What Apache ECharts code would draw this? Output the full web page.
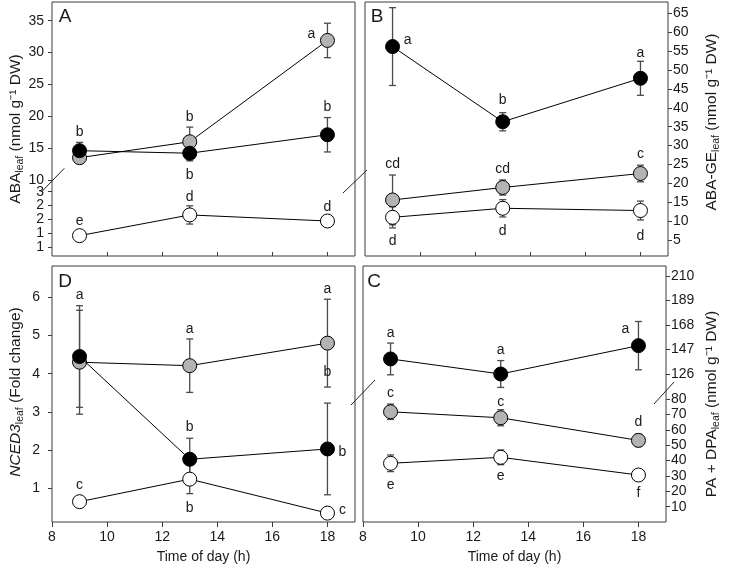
<!DOCTYPE html>
<html><head><meta charset="utf-8">
<script src="https://cdn.jsdelivr.net/npm/echarts@6/dist/echarts.min.js"></script>
<style>html,body{margin:0;padding:0;background:#fff}#c{width:730px;height:571px}</style>
</head><body><div id="c"></div>
<script>
// ---------------- DATA ----------------
const hours = [9, 13, 18];
const xTicks = [8, 10, 12, 14, 16, 18];

// Panel A: ABA leaf (nmol g-1 DW)
const A_black = [14.6, 14.2, 17.1];
const A_blackErr = [1.3, 1.2, 2.7];
const A_gray = [13.5, 16.0, 31.9];
const A_grayErr = [0.8, 2.3, 2.7];
const A_white = [1.41, 2.16, 1.94];
const A_whiteErr = [0.08, 0.33, 0.08];
const A_upperTicks = [10, 15, 20, 25, 30, 35];
const A_lowerTicks = [1, 1.5, 2, 2.5, 3];
const A_lowerTickLabels = ['1', '1', '2', '2', '3'];
const A_blackLetters = ['b', 'b', 'b'];
const A_grayLetters = ['', 'b', 'a'];
const A_whiteLetters = ['e', 'd', 'd'];

// Panel B: ABA-GE leaf
const B_black = [56.2, 36.3, 47.8];
const B_blackErr = [10.3, 2.4, 4.5];
const B_gray = [15.6, 18.9, 22.6];
const B_grayErr = [6.6, 2.0, 2.2];
const B_white = [11.0, 13.4, 12.8];
const B_whiteErr = [2.8, 2.3, 2.5];
const B_ticks = [5, 10, 15, 20, 25, 30, 35, 40, 45, 50, 55, 60, 65];
const B_blackLetters = ['a', 'b', 'a'];
const B_grayLetters = ['cd', 'cd', 'c'];
const B_whiteLetters = ['d', 'd', 'd'];

// Panel C: PA + DPA leaf
const C_black = [138.9, 126.0, 150.3];
const C_blackErr = [13.6, 11.5, 20.7];
const C_gray = [71.7, 67.8, 53.1];
const C_grayErr = [5.0, 5.2, 4.0];
const C_white = [38.2, 42.1, 30.6];
const C_whiteErr = [5.4, 4.8, 1.5];
const C_upperTicks = [126, 147, 168, 189, 210];
const C_lowerTicks = [10, 20, 30, 40, 50, 60, 70, 80];
const C_blackLetters = ['a', 'a', 'a'];
const C_grayLetters = ['c', 'c', 'd'];
const C_whiteLetters = ['e', 'e', 'f'];

// Panel D: NCED3 leaf (fold change)
const D_black = [4.45, 1.76, 2.03];
const D_blackErr = [1.33, 0.55, 1.2];
const D_gray = [4.30, 4.21, 4.80];
const D_grayErr = [1.36, 0.70, 1.15];
const D_white = [0.65, 1.24, 0.35];
const D_whiteErr = [0.1, 0.38, 0.08];
const D_ticks = [1, 2, 3, 4, 5, 6];
const D_blackLetters = ['', 'b', 'b'];
const D_grayLetters = ['a', 'a', 'a'];
const D_grayLetters2 = ['', '', 'b'];
const D_whiteLetters = ['c', 'b', 'c'];

// ---------------- STYLE ----------------
const FONT = '"Liberation Sans", Arial, Helvetica, sans-serif';
const INK = '#1a1a1a';
const FRAME = '#3a3a3a';
const ERR = '#4a4a4a';
const FILL = {black: '#000000', gray: '#b3b3b3', white: '#ffffff'};

// letter offsets (px) from the marker centre
const OFF = {
  A: {black: [[0,-19],[0,21.7],[0,-27.7]], gray: [null,[0,-24.7],[-16,-6.7]], white: [[0,-15],[0,-17.3],[0,-14]]},
  B: {black: [[15,-6],[0,-21.7],[0,-25.6]], gray: [[0,-36],[0,-18.5],[0,-19.5]], white: [[0,23.4],[0,22.5],[0,25.2]]},
  C: {black: [[0,-25.7],[0,-24],[-13,-16.4]], gray: [[0,-18.4],[0,-16],[0,-18]], white: [[0,21.7],[0,18.7],[0,17.7]]},
  D: {black: [null,[0,-32.6],[15,2.7]], gray: [[0,-67.3],[0,-36.4],[0,-54]], gray2: [null,null,[0,29.4]], white: [[0,-16.7],[0,29.3],[15,-3.3]]}
};

const gridDefs = [
  {left: 52, top: 2, width: 303, height: 254, show: true},   // 0 A frame
  {left: 52, top: 2, width: 303, height: 178},               // 1 A upper
  {left: 52, top: 186, width: 303, height: 70},              // 2 A lower
  {left: 365, top: 2, width: 303, height: 254, show: true},  // 3 B
  {left: 52, top: 266, width: 303, height: 256, show: true}, // 4 D
  {left: 363, top: 266, width: 303, height: 256, show: true},// 5 C frame
  {left: 363, top: 266, width: 303, height: 120},            // 6 C upper
  {left: 363, top: 392, width: 303, height: 130}             // 7 C lower
];
const grids = gridDefs.map(g => ({
  left: g.left, top: g.top, width: g.width, height: g.height,
  show: !!g.show, borderColor: FRAME, borderWidth: 1, backgroundColor: 'transparent',
  containLabel: false, outerBoundsMode: 'none'
}));

const lblStyle = {color: INK, fontSize: 14, fontFamily: FONT};
function xAx(i, kind) {
  const ax = {type: 'value', gridIndex: i, min: 8, max: 19,
    axisLine: {show: false}, splitLine: {show: false},
    axisTick: {show: false}, axisLabel: {show: false}};
  if (kind === 'inner') {
    ax.axisTick = {show: true, inside: true, length: 4, customValues: xTicks.slice(1), lineStyle: {color: FRAME}};
  } else if (kind === 'outer') {
    ax.axisTick = {show: true, inside: false, length: 5, customValues: xTicks, lineStyle: {color: FRAME}};
    ax.axisLabel = Object.assign({show: true, margin: 8, customValues: xTicks}, lblStyle);
    ax.name = 'Time of day (h)';
    ax.nameLocation = 'middle';
    ax.nameGap = 28;
    ax.nameTextStyle = {color: INK, fontSize: 14, fontFamily: FONT};
  }
  return ax;
}
function yAx(i, min, max, ticks, pos, margin, fmt) {
  if (!ticks) return {type: 'value', gridIndex: i, min: 0, max: 1, show: false};
  return {type: 'value', gridIndex: i, min: min, max: max, position: pos,
    axisLine: {show: false}, splitLine: {show: false},
    axisTick: {show: true, length: 4, customValues: ticks, lineStyle: {color: FRAME}},
    axisLabel: Object.assign({show: true, margin: margin, customValues: ticks, formatter: fmt || (v => String(v))}, lblStyle)};
}

const xAxes = [xAx(0,'inner'), xAx(1), xAx(2), xAx(3,'inner'), xAx(4,'outer'), xAx(5,'outer'), xAx(6), xAx(7)];
const yAxes = [
  yAx(0),
  yAx(1, 10, 37.93, A_upperTicks, 'left', 8),
  yAx(2, 0.6745, 3.206, A_lowerTicks, 'left', 8, v => {
    const k = A_lowerTicks.findIndex(t => Math.abs(t - v) < 1e-6); return k >= 0 ? A_lowerTickLabels[k] : '';
  }),
  yAx(3, 0.765, 68.0, B_ticks, 'right', 5),
  yAx(4, 0.118, 6.819, D_ticks, 'left', 12),
  yAx(5),
  yAx(6, 115.71, 218.57, C_upperTicks, 'right', 5),
  yAx(7, 0.056, 84.55, C_lowerTicks, 'right', 5)
];

const series = [];
function addErr(gi, vals, errs) {
  series.push({type: 'custom', xAxisIndex: gi, yAxisIndex: gi, z: 2, clip: false, silent: true,
    data: hours.map((h, i) => [h, vals[i], errs[i]]),
    renderItem: (p, api) => {
      const x = api.value(0), y = api.value(1), e = api.value(2);
      const t = api.coord([x, y + e]), b = api.coord([x, y - e]);
      const w = 3.5, st = {stroke: ERR, lineWidth: 1.3, fill: null};
      return {type: 'group', children: [
        {type: 'line', shape: {x1: t[0], y1: t[1], x2: b[0], y2: b[1]}, style: st},
        {type: 'line', shape: {x1: t[0]-w, y1: t[1], x2: t[0]+w, y2: t[1]}, style: st},
        {type: 'line', shape: {x1: b[0]-w, y1: b[1], x2: b[0]+w, y2: b[1]}, style: st}
      ]};
    }});
}
function addPts(gi, vals, color, z) {
  series.push({type: 'line', xAxisIndex: gi, yAxisIndex: gi, z: z, clip: false, silent: true,
    data: hours.map((h, i) => [h, vals[i]]),
    symbol: 'circle', symbolSize: 14, showSymbol: true,
    itemStyle: {color: color, borderColor: '#000', borderWidth: 1},
    lineStyle: {color: '#000', width: 1}, emphasis: {disabled: true}});
}
function addLetters(gi, vals, letters, offs) {
  series.push({type: 'custom', xAxisIndex: gi, yAxisIndex: gi, z: 10, clip: false, silent: true,
    data: hours.map((h, i) => [h, vals[i], i]).filter(d => letters[d[2]]),
    renderItem: (p, api) => {
      const k = api.value(2);
      const pt = api.coord([api.value(0), api.value(1)]);
      const o = offs[k];
      return {type: 'text', x: pt[0] + o[0], y: pt[1] + o[1],
        style: {text: letters[k], fill: INK, font: '14px ' + FONT,
          align: 'center', verticalAlign: 'middle', textAlign: 'center', textVerticalAlign: 'middle'}};
    }});
}

// Panel A
addErr(2, A_white, A_whiteErr); addErr(1, A_gray, A_grayErr); addErr(1, A_black, A_blackErr);
addPts(2, A_white, FILL.white, 3); addPts(1, A_gray, FILL.gray, 4); addPts(1, A_black, FILL.black, 5);
addLetters(2, A_white, A_whiteLetters, OFF.A.white);
addLetters(1, A_gray, A_grayLetters, OFF.A.gray);
addLetters(1, A_black, A_blackLetters, OFF.A.black);
// Panel B
addErr(3, B_white, B_whiteErr); addErr(3, B_gray, B_grayErr); addErr(3, B_black, B_blackErr);
addPts(3, B_white, FILL.white, 3); addPts(3, B_gray, FILL.gray, 4); addPts(3, B_black, FILL.black, 5);
addLetters(3, B_white, B_whiteLetters, OFF.B.white);
addLetters(3, B_gray, B_grayLetters, OFF.B.gray);
addLetters(3, B_black, B_blackLetters, OFF.B.black);
// Panel C
addErr(7, C_white, C_whiteErr); addErr(7, C_gray, C_grayErr); addErr(6, C_black, C_blackErr);
addPts(7, C_white, FILL.white, 3); addPts(7, C_gray, FILL.gray, 4); addPts(6, C_black, FILL.black, 5);
addLetters(7, C_white, C_whiteLetters, OFF.C.white);
addLetters(7, C_gray, C_grayLetters, OFF.C.gray);
addLetters(6, C_black, C_blackLetters, OFF.C.black);
// Panel D
addErr(4, D_white, D_whiteErr); addErr(4, D_gray, D_grayErr); addErr(4, D_black, D_blackErr);
addPts(4, D_white, FILL.white, 3); addPts(4, D_gray, FILL.gray, 4); addPts(4, D_black, FILL.black, 5);
addLetters(4, D_white, D_whiteLetters, OFF.D.white);
addLetters(4, D_gray, D_grayLetters, OFF.D.gray);
addLetters(4, D_gray, D_grayLetters2, OFF.D.gray2);
addLetters(4, D_black, D_blackLetters, OFF.D.black);

// decorations: panel letters, axis titles, axis-break marks
const rich = {
  n: {fontSize: 15.5, fontFamily: FONT, color: INK, lineHeight: 20},
  i: {fontSize: 15.5, fontFamily: FONT, color: INK, lineHeight: 20, fontStyle: 'italic'},
  s: {fontSize: 10.5, fontFamily: FONT, color: INK, lineHeight: 20, verticalAlign: 'bottom'}
};
function vTitle(x, y, txt) {
  return {type: 'text', x: x, y: y, rotation: Math.PI / 2, silent: true,
    style: {text: txt, rich: rich, fill: INK, align: 'center', verticalAlign: 'middle', textAlign: 'center', textVerticalAlign: 'middle'}};
}
function pLetter(x, y, t) {
  return {type: 'text', x: x, y: y, silent: true,
    style: {text: t, fill: INK, font: '19px ' + FONT, align: 'center', verticalAlign: 'middle', textAlign: 'center', textVerticalAlign: 'middle'}};
}
function brk(x1, y1, x2, y2) {
  return {type: 'line', silent: true, shape: {x1, y1, x2, y2}, style: {stroke: '#222', lineWidth: 1}};
}
const graphic = [
  pLetter(65, 17, 'A'), pLetter(377, 17, 'B'), pLetter(65, 282, 'D'), pLetter(374, 282, 'C'),
  vTitle(16, 129, '{n|ABA}{s|leaf}{n| (nmol g⁻¹ DW)}'),
  vTitle(712, 122, '{n|ABA-GE}{s|leaf}{n| (nmol g⁻¹ DW)}'),
  vTitle(16, 392, '{i|NCED3}{s|leaf}{n| (Fold change)}'),
  vTitle(712, 404, '{n|PA + DPA}{s|leaf}{n| (nmol g⁻¹ DW)}'),
  brk(41.7, 191.7, 64.3, 168.3),
  brk(343, 193, 367, 170),
  brk(351, 405, 375, 380),
  brk(654, 404, 674, 382)
];

const chart = echarts.init(document.getElementById('c'), null, {renderer: 'canvas'});
chart.setOption({
  animation: false,
  backgroundColor: '#ffffff',
  textStyle: {fontFamily: FONT},
  grid: grids, xAxis: xAxes, yAxis: yAxes, series: series, graphic: graphic
});
</script></body></html>
